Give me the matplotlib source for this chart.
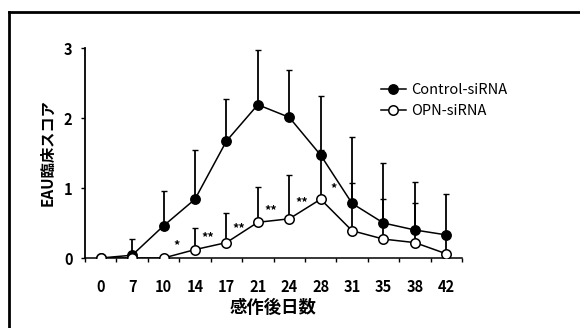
import numpy as np
import matplotlib
matplotlib.use("Agg")
import matplotlib.pyplot as plt
from matplotlib.lines import Line2D

plt.rcParams['font.family'] = ['Noto Sans CJK JP', 'DejaVu Sans']

# --------------------------
# DADOS
# --------------------------
dias = ["0", "7", "10", "14", "17", "21", "24", "28", "31", "35", "38", "42"]

control_media = [0.0, 0.04, 0.46, 0.84, 1.67, 2.19, 2.01, 1.47, 0.78, 0.50, 0.40, 0.33]
control_sup = [0.0, 0.27, 0.96, 1.54, 2.27, 2.97, 2.69, 2.31, 1.73, 1.36, 1.08, 0.92]

opn_media = [0.0, 0.0, 0.0, 0.12, 0.22, 0.51, 0.56, 0.84, 0.39, 0.27, 0.22, 0.06]
opn_sup = [0.0, 0.0, 0.0, 0.43, 0.65, 1.01, 1.18, 1.55, 1.07, 0.85, 0.79, 0.30]

# significância (índice do dia, rótulo, altura)
sig_idx = [2, 3, 4, 5, 6, 7]
sig_txt = ["*", "**", "**", "**", "**", "*"]
sig_y = [0.17, 0.29, 0.42, 0.68, 0.79, 0.99]

# --------------------------
# FIGURA
# --------------------------
fig = plt.figure(figsize=(5.8, 3.28), dpi=100)
ax = fig.add_axes([0.1466, 0.2134, 0.65, 0.6402])

x = np.arange(len(dias))
c_m = np.array(control_media)
o_m = np.array(opn_media)

ax.errorbar(x, c_m, yerr=[np.zeros_like(c_m), np.array(control_sup) - c_m],
            fmt="none", ecolor="black", elinewidth=1.3, capsize=2.2, capthick=1.0, zorder=2)
ax.errorbar(x, o_m, yerr=[np.zeros_like(o_m), np.array(opn_sup) - o_m],
            fmt="none", ecolor="black", elinewidth=1.3, capsize=2.2, capthick=1.0, zorder=2)

ax.plot(x, c_m, "-o", color="black", lw=1.1, ms=6.8, mfc="black", mec="black",
        label="Control-siRNA", zorder=3)
ax.plot(x, o_m, "-o", color="black", lw=1.1, ms=6.8, mfc="white", mec="black", mew=1.1,
        label="OPN-siRNA", zorder=4)

for i, t, yy in zip(sig_idx, sig_txt, sig_y):
    ax.text(i + 0.4, yy, t, ha="center", va="center", fontsize=9, fontweight="bold")

ax.set_xlim(-0.5, len(dias) - 0.5)
ax.set_ylim(0, 3)
ax.set_xticks(x)
ax.set_xticklabels(dias)
ax.set_xticks(np.arange(-0.5, len(dias)), minor=True)
ax.set_yticks([0, 1, 2, 3])
ax.tick_params(axis="x", which="major", length=0, pad=15, labelsize=10.5)
ax.tick_params(axis="x", which="minor", length=3, width=1, direction="out")
ax.tick_params(axis="y", length=3, width=1, direction="out", pad=6, labelsize=10.5)
for lab in ax.get_xticklabels() + ax.get_yticklabels():
    lab.set_fontweight("bold")

ax.spines["top"].set_visible(False)
ax.spines["right"].set_visible(False)
ax.spines["left"].set_linewidth(1.3)
ax.spines["bottom"].set_linewidth(1.1)

ax.set_ylabel("EAU臨床スコア", fontsize=11, fontweight="bold", labelpad=6)
ax.set_xlabel("感作後日数", fontsize=12.5, fontweight="bold", labelpad=3)

ax.legend(loc="upper left", bbox_to_anchor=(0.765, 0.87), frameon=False,
          fontsize=10.5, handlelength=1.7, handletextpad=0.4, labelspacing=0.5,
          borderpad=0)

# moldura (só esquerda e topo)
fig.add_artist(Line2D([0.016, 0.016], [0.0, 0.963], transform=fig.transFigure,
                      color="black", lw=2.0))
fig.add_artist(Line2D([0.016, 1.0], [0.963, 0.963], transform=fig.transFigure,
                      color="black", lw=2.0))

fig.savefig("out.png", dpi=100)
